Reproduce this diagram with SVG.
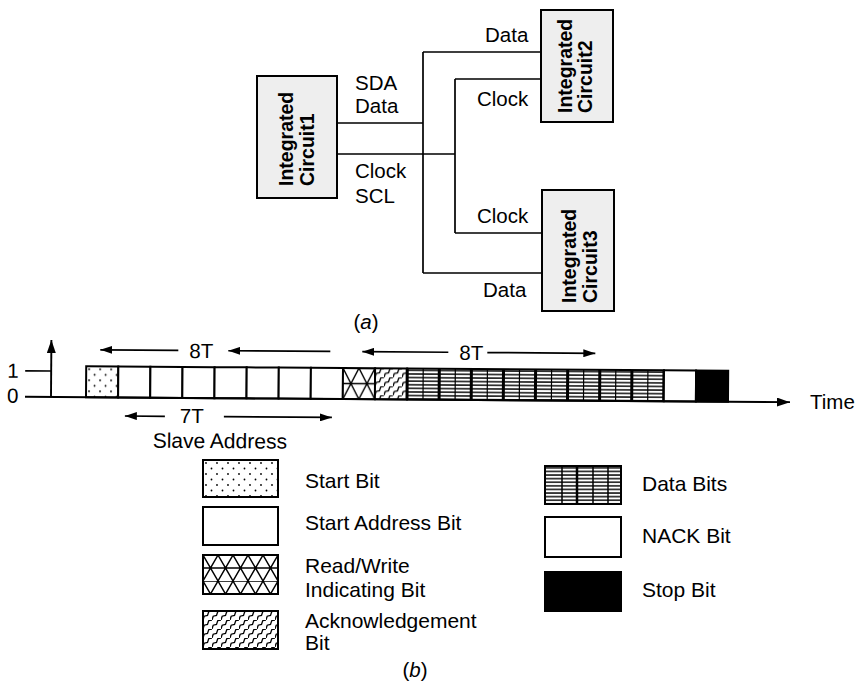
<svg xmlns="http://www.w3.org/2000/svg" width="856" height="685" viewBox="0 0 856 685">
<style>
  text { font-family: "Liberation Sans", Arial, sans-serif; fill: #000; }
  .lbl { font-size: 20.5px; }
  .lg { font-size: 21px; }
  .ic { font-size: 19.5px; font-weight: bold; }
  .icbox { fill: #eeeeee; stroke: #000; stroke-width: 2; }
  .wire { fill: none; stroke: #000; stroke-width: 1.7; }
  .bx { stroke: #000; stroke-width: 2; }
  .arr { fill: none; stroke: #000; stroke-width: 1.7; marker-end: url(#ah); }
</style>
<defs>
  <marker id="ah" markerUnits="userSpaceOnUse" viewBox="0 0 12 8" markerWidth="12" markerHeight="8" refX="12" refY="4" orient="auto">
    <path d="M0,0 L12,4 L0,8 z" fill="#000"/>
  </marker>
  <marker id="ahBig" markerUnits="userSpaceOnUse" viewBox="0 0 13 9" markerWidth="13" markerHeight="9" refX="13" refY="4.5" orient="auto">
    <path d="M0,0 L13,4.5 L0,9 z" fill="#000"/>
  </marker>
  <pattern id="dotsT" patternUnits="userSpaceOnUse" x="86" y="366" width="11" height="11">
    <rect width="11" height="11" fill="#fff"/>
    <circle cx="3" cy="3" r="0.9" fill="#000"/>
    <circle cx="8.5" cy="8.5" r="0.9" fill="#000"/>
  </pattern>
  <pattern id="dotsL" patternUnits="userSpaceOnUse" x="203" y="460" width="11" height="11">
    <rect width="11" height="11" fill="#fff"/>
    <circle cx="3" cy="3" r="0.9" fill="#000"/>
    <circle cx="8.5" cy="8.5" r="0.9" fill="#000"/>
  </pattern>
  <pattern id="rwT" patternUnits="userSpaceOnUse" x="342.8" y="366" width="16" height="31">
    <rect width="16" height="31" fill="#fff"/>
    <path d="M0,0 H16 M0,15.5 H16 M0,0 L16,31 M16,0 L0,31" stroke="#000" stroke-width="1.4" fill="none"/>
  </pattern>
  <pattern id="rwL" patternUnits="userSpaceOnUse" x="203" y="555" width="15" height="26">
    <rect width="15" height="26" fill="#fff"/>
    <path d="M0,0 H15 M0,13 H15 M0,0 L15,26 M15,0 L0,26" stroke="#000" stroke-width="1.4" fill="none"/>
  </pattern>
  <pattern id="ackT" patternUnits="userSpaceOnUse" x="374.9" y="366" width="9" height="9">
    <rect width="9" height="9" fill="#fff"/>
    <path d="M0,9 L1.2,5.2 L4.5,4.5 L5.7,0.7 L9,0" stroke="#000" stroke-width="1.3" fill="none"/>
    <path d="M-9,18 L-7.8,14.2 L-4.5,13.5 L-3.3,9.7 L0,9 M9,0 L10.2,-3.8 L13.5,-4.5 L14.7,-8.3 L18,-9" stroke="#000" stroke-width="1.3" fill="none"/>
  </pattern>
  <pattern id="ackL" patternUnits="userSpaceOnUse" x="203" y="611" width="9" height="9">
    <rect width="9" height="9" fill="#fff"/>
    <path d="M0,9 L1.2,5.2 L4.5,4.5 L5.7,0.7 L9,0" stroke="#000" stroke-width="1.3" fill="none"/>
    <path d="M-9,18 L-7.8,14.2 L-4.5,13.5 L-3.3,9.7 L0,9 M9,0 L10.2,-3.8 L13.5,-4.5 L14.7,-8.3 L18,-9" stroke="#000" stroke-width="1.3" fill="none"/>
  </pattern>
  <pattern id="hlT" patternUnits="userSpaceOnUse" x="407" y="366" width="4" height="3.6">
    <rect width="4" height="3.6" fill="#fff"/>
    <rect y="1" width="4" height="1.7" fill="#2a2a2a"/>
  </pattern>
  <pattern id="hlL" patternUnits="userSpaceOnUse" x="545" y="466" width="4" height="3.6">
    <rect width="4" height="3.6" fill="#fff"/>
    <rect y="1" width="4" height="1.7" fill="#2a2a2a"/>
  </pattern>
</defs>

<rect width="856" height="685" fill="#fff"/>

<!-- (a) bus diagram -->
<g id="connectors">
  <path class="wire" d="M337,123 H423 M337,154 H455 M423,52 V273 M423,52 H541 M423,273 H542 M455,79 V233 M455,79 H541 M455,233 H542"/>
</g>

<g id="ic1">
  <rect class="icbox" x="257" y="76" width="80" height="122"/>
  <text class="ic" transform="translate(293,186) rotate(-90)">Integrated</text>
  <text class="ic" transform="translate(314,186) rotate(-90)">Circuit1</text>
</g>
<g id="ic2">
  <rect class="icbox" x="541" y="10" width="72" height="112"/>
  <text class="ic" transform="translate(572,113) rotate(-90)">Integrated</text>
  <text class="ic" transform="translate(592,113) rotate(-90)">Circuit2</text>
</g>
<g id="ic3">
  <rect class="icbox" x="542" y="190" width="72" height="121"/>
  <text class="ic" transform="translate(576,303) rotate(-90)">Integrated</text>
  <text class="ic" transform="translate(597,303) rotate(-90)">Circuit3</text>
</g>

<g id="bus-labels">
  <text class="lbl" x="355" y="90">SDA</text>
  <text class="lbl" x="355" y="113">Data</text>
  <text class="lbl" x="355" y="178">Clock</text>
  <text class="lbl" x="355" y="203">SCL</text>
  <text class="lbl" x="485" y="42">Data</text>
  <text class="lbl" x="477" y="106">Clock</text>
  <text class="lbl" x="477" y="223">Clock</text>
  <text class="lbl" x="483" y="297">Data</text>
  <text class="lbl" x="366" y="329" text-anchor="middle">(<tspan font-style="italic">a</tspan>)</text>
</g>

<!-- (b) timing frame -->
<g id="timeline" transform="rotate(0.4 51 397)">
  <line x1="25" y1="371" x2="51" y2="371" stroke="#000" stroke-width="1.7"/>
  <line x1="51" y1="397" x2="51" y2="340" stroke="#000" stroke-width="1.9" marker-end="url(#ahBig)"/>
  <text class="lbl" x="7" y="378">1</text>
  <text class="lbl" x="7" y="403">0</text>

  <rect class="bx" x="86" y="366" width="32.1" height="31" fill="url(#dotsT)"/>
  <rect class="bx" x="118.1" y="366" width="32.1" height="31" fill="#fff"/>
  <rect class="bx" x="150.2" y="366" width="32.1" height="31" fill="#fff"/>
  <rect class="bx" x="182.3" y="366" width="32.1" height="31" fill="#fff"/>
  <rect class="bx" x="214.4" y="366" width="32.1" height="31" fill="#fff"/>
  <rect class="bx" x="246.5" y="366" width="32.1" height="31" fill="#fff"/>
  <rect class="bx" x="278.6" y="366" width="32.1" height="31" fill="#fff"/>
  <rect class="bx" x="310.7" y="366" width="32.1" height="31" fill="#fff"/>
  <rect class="bx" x="342.8" y="366" width="32.1" height="31" fill="url(#rwT)"/>
  <rect class="bx" x="374.9" y="366" width="32.1" height="31" fill="url(#ackT)"/>
  <rect class="bx" x="407" y="366" width="256.8" height="31" fill="url(#hlT)"/>
  <path d="M407,366 V397 M439.1,366 V397 M471.2,366 V397 M503.3,366 V397 M535.4,366 V397 M567.5,366 V397 M599.6,366 V397 M631.7,366 V397 M663.8,366 V397" stroke="#000" stroke-width="3"/>
  <path d="M423,366 V397 M455.1,366 V397 M487.2,366 V397 M519.3,366 V397 M551.4,366 V397 M583.5,366 V397 M615.6,366 V397 M647.7,366 V397" stroke="#000" stroke-width="1.2"/>
  <rect class="bx" x="663.8" y="366" width="32.1" height="31" fill="#fff"/>
  <rect class="bx" x="695.9" y="366" width="32.1" height="31" fill="#000"/>

  <line x1="25" y1="397" x2="790" y2="397" stroke="#000" stroke-width="1.9" marker-end="url(#ahBig)"/>

  <line class="arr" x1="178" y1="349.5" x2="100" y2="349.5"/>
  <text class="lbl" x="189" y="357">8T</text>
  <line class="arr" x1="330" y1="349.5" x2="228" y2="349.5"/>
  <line class="arr" x1="448" y1="349.5" x2="362" y2="349.5"/>
  <text class="lbl" x="459" y="357">8T</text>
  <line class="arr" x1="487" y1="349.5" x2="595" y2="349.5"/>

  <line class="arr" x1="165" y1="415.5" x2="125" y2="415.5"/>
  <text class="lbl" x="180" y="422">7T</text>
  <line class="arr" x1="224" y1="415.5" x2="332" y2="415.5"/>
  <text class="lg" x="153" y="447">Slave Address</text>
</g>
<text class="lbl" x="810" y="409" font-size="19.5">Time</text>

<!-- legend -->
<g id="legend-start">
  <rect class="bx" x="203" y="460" width="75" height="37" fill="url(#dotsL)"/>
  <text class="lg" x="305" y="488">Start Bit</text>
</g>
<g id="legend-address">
  <rect class="bx" x="203" y="507" width="75" height="38" fill="#fff"/>
  <text class="lg" x="305" y="530">Start Address Bit</text>
</g>
<g id="legend-rw">
  <rect class="bx" x="203" y="555" width="75" height="39" fill="url(#rwL)"/>
  <text class="lg" x="305" y="573">Read/Write</text>
  <text class="lg" x="305" y="597">Indicating Bit</text>
</g>
<g id="legend-ack">
  <rect class="bx" x="203" y="611" width="75" height="38" fill="url(#ackL)"/>
  <text class="lg" x="305" y="628">Acknowledgement</text>
  <text class="lg" x="305" y="650">Bit</text>
</g>
<g id="legend-data">
  <rect class="bx" x="545" y="466" width="76" height="38" fill="url(#hlL)"/>
  <path d="M562,466 V504 M593,466 V504 M608,466 V504" stroke="#000" stroke-width="1.5"/>
  <path d="M577,466 V504" stroke="#000" stroke-width="2.5"/>
  <text class="lg" x="642" y="491">Data Bits</text>
</g>
<g id="legend-nack">
  <rect class="bx" x="545" y="517" width="76" height="40" fill="#fff"/>
  <text class="lg" x="642" y="543">NACK Bit</text>
</g>
<g id="legend-stop">
  <rect class="bx" x="545" y="572" width="76" height="39" fill="#000"/>
  <text class="lg" x="642" y="597">Stop Bit</text>
</g>
<text class="lbl" x="415" y="677" text-anchor="middle">(<tspan font-style="italic">b</tspan>)</text>
</svg>
